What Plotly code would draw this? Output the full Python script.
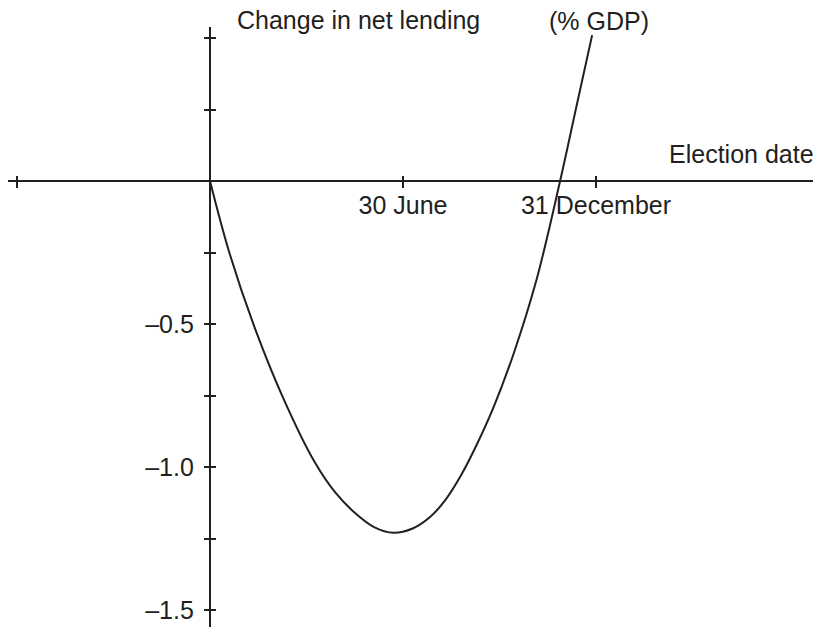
import plotly.graph_objects as go

# ---- data ----
# x: time of election, as a fraction of the year (0 = start, 0.5 = 30 June, 1 = 31 December)
election_time = [0.0, 0.05, 0.115, 0.19, 0.27, 0.325, 0.375, 0.425, 0.475,
                 0.525, 0.57, 0.61, 0.65, 0.69, 0.735, 0.785, 0.845, 0.907,
                 0.95, 0.99]
# y: change in net lending (% GDP)
net_lending_change = [0.0, -0.25, -0.51, -0.76, -0.98, -1.09, -1.16, -1.21, -1.23,
                      -1.215, -1.175, -1.115, -1.03, -0.925, -0.79, -0.61, -0.35, 0.0,
                      0.265, 0.51]

x_tick_vals = [-0.5, 0.5, 1.0]
x_tick_text = ["", "30 June", "31 December"]
y_tick_vals = [0.5, 0.25, -0.25, -0.5, -0.75, -1.0, -1.25, -1.5]
y_tick_text = ["", "", "", "\u20130.5", "", "\u20131.0", "", "\u20131.5"]

y_title_left = "Change in net lending"
y_title_right = "(% GDP)"
x_title = "Election date"

# ---- styling / layout ----
WIN_W, WIN_H = 821, 627
OFF = 8                            # page body margin
W, H = WIN_W - OFF, WIN_H - OFF    # figure size so the page fits the window
INK = "#231f20"
FONT = "Liberation Sans, Arial, sans-serif"
FS = 25

# reference pixel positions (window coords) -> figure coords
X0_PX, Y0_PX = 210 - OFF, 181 - OFF    # origin
PX_PER_X, PX_PER_Y = 386, 286          # pixels per unit
XL_PX, XR_PX = 0, 815 - OFF            # x axis line extent
YT_PX = 27 - OFF                       # top of y axis line

x_range = [(XL_PX - X0_PX) / PX_PER_X, (XR_PX - X0_PX) / PX_PER_X]
y_range = [-(H - Y0_PX) / PX_PER_Y, (Y0_PX - YT_PX) / PX_PER_Y]
x_dom = [XL_PX / W, XR_PX / W]
y_dom = [0, (H - YT_PX) / H]
x_axis_pos = (H - Y0_PX) / H
y_axis_pos = X0_PX / W


def px(x):
    return (x - OFF) / W


def py(y):
    return 1 - (y - OFF) / H


fig = go.Figure()
fig.add_trace(go.Scatter(
    x=election_time, y=net_lending_change, mode="lines",
    line=dict(color=INK, width=2, shape="spline", smoothing=1.0),
    hoverinfo="skip", showlegend=False))
# dummy trace so the twin (inner-tick) axes are drawn
fig.add_trace(go.Scatter(x=[None], y=[None], xaxis="x2", yaxis="y2",
                         showlegend=False, hoverinfo="skip"))

common_tick = dict(tickcolor=INK, tickwidth=2, showgrid=False, zeroline=False)
fig.update_layout(
    width=W, height=H,
    margin=dict(l=0, r=0, t=0, b=0, pad=0),
    paper_bgcolor="white", plot_bgcolor="white",
    font=dict(family=FONT, size=FS, color=INK),
    xaxis=dict(domain=x_dom, range=x_range, anchor="free", position=x_axis_pos,
               showline=True, linecolor=INK, linewidth=2.2,
               ticks="outside", ticklen=6, tickvals=x_tick_vals, ticktext=x_tick_text,
               tickfont=dict(family=FONT, size=FS, color=INK), ticklabelstandoff=-4,
               **common_tick),
    xaxis2=dict(domain=x_dom, range=x_range, anchor="free", position=x_axis_pos,
                overlaying="x", showline=False, ticks="inside", ticklen=5,
                tickvals=x_tick_vals, showticklabels=False, **common_tick),
    yaxis=dict(domain=y_dom, range=y_range, anchor="free", position=y_axis_pos,
               showline=True, linecolor=INK, linewidth=2.2,
               ticks="outside", ticklen=5, tickvals=y_tick_vals, ticktext=y_tick_text,
               tickfont=dict(family=FONT, size=FS, color=INK), ticklabelstandoff=5,
               **common_tick),
    yaxis2=dict(domain=y_dom, range=y_range, anchor="free", position=y_axis_pos,
                overlaying="y", showline=False, ticks="inside", ticklen=5,
                tickvals=y_tick_vals, showticklabels=False, **common_tick),
    annotations=[
        dict(text=y_title_left, xref="paper", yref="paper", x=px(236), y=py(20),
             xanchor="left", yanchor="middle", showarrow=False, borderpad=0,
             font=dict(family=FONT, size=FS, color=INK)),
        dict(text=y_title_right, xref="paper", yref="paper", x=px(548), y=py(21),
             xanchor="left", yanchor="middle", showarrow=False, borderpad=0,
             font=dict(family=FONT, size=FS, color=INK)),
        dict(text=x_title, xref="paper", yref="paper", x=px(816), y=py(154),
             xanchor="right", yanchor="middle", showarrow=False,
             font=dict(family=FONT, size=FS, color=INK)),
    ],
    showlegend=False,
)

fig.write_html("out.html")
